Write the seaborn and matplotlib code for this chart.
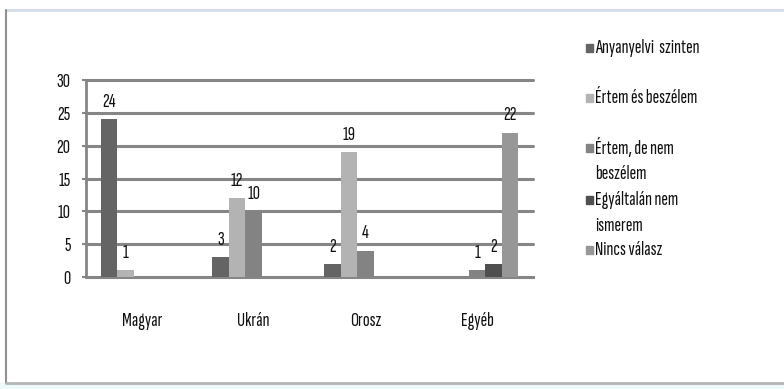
import matplotlib
matplotlib.use("Agg")
import matplotlib.pyplot as plt
from matplotlib.patches import Rectangle
from matplotlib.lines import Line2D
import seaborn as sns
import pandas as pd

# Adatok
categories = ['Magyar', 'Ukrán', 'Orosz', 'Egyéb']
series_names = ['Anyanyelvi  szinten', 'Értem és beszélem', 'Értem, de nem beszélem',
                'Egyáltalán nem ismerem', 'Nincs válasz']
legend_lines = [['Anyanyelvi  szinten'], ['Értem és beszélem'], ['Értem, de nem', 'beszélem'],
                ['Egyáltalán nem', 'ismerem'], ['Nincs válasz']]
anyanyelvi = [24, 3, 2, 0]
ertem_beszelem = [1, 12, 19, 0]
ertem_nem_beszelem = [0, 10, 4, 1]
egyaltalan = [0, 0, 0, 2]
nincs_valasz = [0, 0, 0, 22]
y_ticks = [0, 5, 10, 15, 20, 25, 30]

colors = ['#646464', '#b3b3b3', '#838383', '#4f4f4f', '#979797']

sns.set_style('white')
plt.rcParams['font.family'] = ['Sofia Sans Extra Condensed', 'DejaVu Sans']
FS = 14.5
plt.rcParams['font.size'] = FS

rows = []
for name, vals in zip(series_names, [anyanyelvi, ertem_beszelem, ertem_nem_beszelem,
                                     egyaltalan, nincs_valasz]):
    for cat, v in zip(categories, vals):
        rows.append({'Nyelv': cat, 'Sorozat': name, 'Érték': v})
df = pd.DataFrame(rows)

fig = plt.figure(figsize=(7.84, 3.89), dpi=100)
ax = fig.add_axes([86 / 784, 1 - 277 / 389, (533 - 86) / 784, (277 - 80) / 389])

sns.barplot(data=df, x='Nyelv', y='Érték', hue='Sorozat', order=categories,
            hue_order=series_names, palette=colors, width=0.74, saturation=1,
            legend=False, ax=ax, zorder=3, linewidth=0)

for cont in ax.containers:
    labels = ['%d' % b.get_height() if b.get_height() > 0 else '' for b in cont]
    ax.bar_label(cont, labels=labels, padding=6, fontsize=FS, color='#111111')

ax.set_xlim(-0.5, 3.5)
ax.set_ylim(0, 30)
ax.set_yticks(y_ticks)
ax.yaxis.grid(True, color='#868686', linewidth=2.2, zorder=0, clip_on=False)
ax.set_axisbelow(True)
ax.set_xlabel('')
ax.set_ylabel('')

for s in ['top', 'right']:
    ax.spines[s].set_visible(False)
ax.spines['left'].set_color('#868686')
ax.spines['left'].set_linewidth(2)
ax.spines['bottom'].set_color('#868686')
ax.spines['bottom'].set_linewidth(2)

ax.set_xticks([-0.5, 0.5, 1.5, 2.5, 3.5], minor=True)
ax.tick_params(axis='x', which='major', length=0, pad=25, labelsize=FS, labelcolor='#111111')
ax.tick_params(axis='x', which='minor', length=6, width=1.5, color='#868686', direction='out')
ax.tick_params(axis='y', left=True, length=3, width=1.5, color='#868686',
               labelsize=FS, labelcolor='#111111', pad=8)

# Jelmagyarázat kézzel, a sorozatok színeivel
legend_y = [48, 98, 148, 200, 250]
for lines, col, yy in zip(legend_lines, colors, legend_y):
    fig.patches.append(Rectangle((586 / 784, 1 - (yy + 4) / 389), 7 / 784, 8 / 389,
                                 transform=fig.transFigure, color=col))
    for k, line in enumerate(lines):
        fig.text(595 / 784, 1 - (yy + 26 * k) / 389, line, fontsize=FS, va='center',
                 ha='left', color='#111111')

# Keret és alsó sáv
fig.lines.append(Line2D([6 / 784, 1], [1 - 10 / 389] * 2, transform=fig.transFigure,
                        color='#d4dce8', lw=2))
fig.lines.append(Line2D([6 / 784] * 2, [1 - 10 / 389, 1 - 383 / 389], transform=fig.transFigure,
                        color='#909090', lw=1.5))
fig.patches.append(Rectangle((0, 0), 1, 6 / 389, transform=fig.transFigure,
                             color='#eefafa'))
fig.lines.append(Line2D([6 / 784, 1], [1 - 383 / 389] * 2, transform=fig.transFigure,
                        color='#b4b4b4', lw=2))

fig.savefig('out.png', dpi=100)
